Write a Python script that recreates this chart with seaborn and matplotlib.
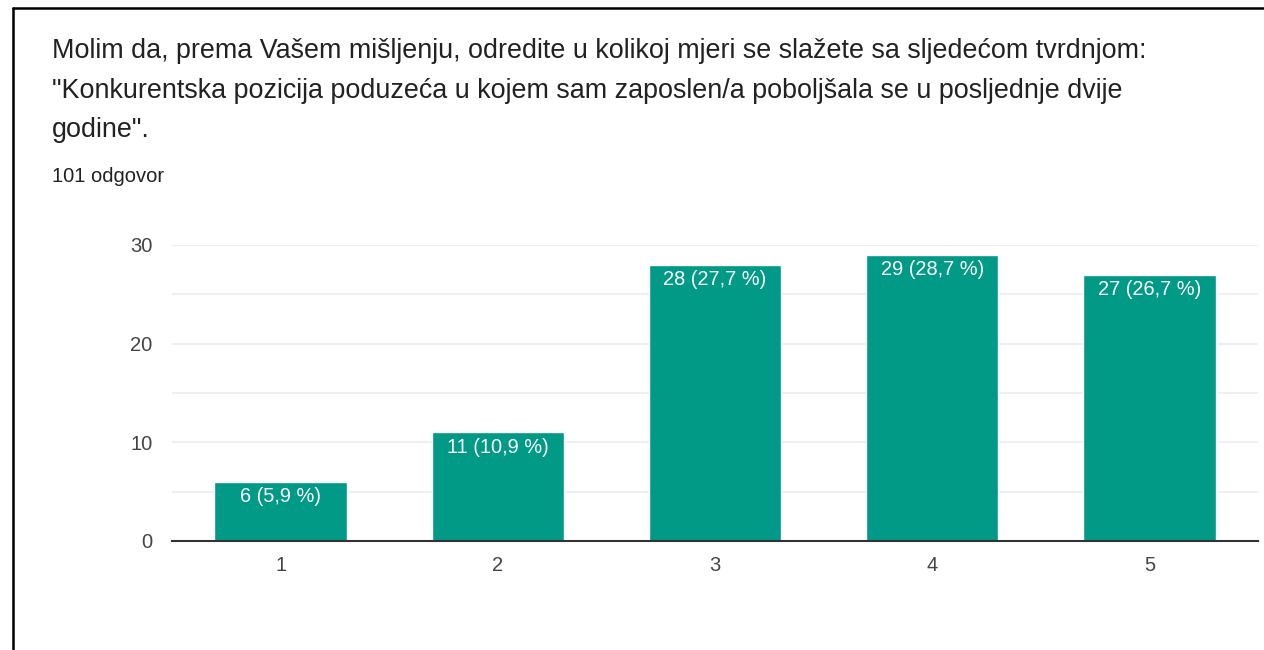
import matplotlib
matplotlib.use("Agg")
import matplotlib.pyplot as plt
import seaborn as sns
import pandas as pd
from matplotlib.lines import Line2D

categories = ["1", "2", "3", "4", "5"]
counts = [6, 11, 28, 29, 27]
percents = ["5,9", "10,9", "27,7", "28,7", "26,7"]
yticks = [0, 10, 20, 30]

title = ("Molim da, prema Vašem mišljenju, odredite u kolikoj mjeri se slažete sa sljedećom tvrdnjom:\n"
         "\"Konkurentska pozicija poduzeća u kojem sam zaposlen/a poboljšala se u posljednje dvije\n"
         "godine\".")
subtitle = "101 odgovor"

sns.set_theme(style="white")
plt.rcParams['font.family'] = ['Liberation Sans', 'DejaVu Sans']

df = pd.DataFrame({"cat": categories, "count": counts})

fig = plt.figure(figsize=(12.64, 6.5), dpi=100)
ax = fig.add_axes([172/1264, 1-541/650, (1258-172)/1264, (541-245)/650])

sns.barplot(data=df, x="cat", y="count", color="#009A87", width=0.61, ax=ax,
            saturation=1, zorder=3)

ax.set_xlim(-0.5, 4.5)
ax.set_ylim(0, 30)
ax.set_yticks(yticks)
ax.set_yticks([5, 15, 25], minor=True)
ax.grid(axis="y", which="both", color="#ececec", linewidth=1.2, zorder=0)
ax.set_axisbelow(True)
for s in ["top", "right", "left"]:
    ax.spines[s].set_visible(False)
ax.spines["bottom"].set_color("#333333")
ax.spines["bottom"].set_linewidth(1.5)
ax.spines["bottom"].set_zorder(4)
ax.set_xlabel("")
ax.set_ylabel("")
ax.tick_params(axis="both", which="both", length=0, labelsize=14.5, colors="#444444")
ax.tick_params(axis="y", pad=14)
ax.tick_params(axis="x", pad=10.5)

for i, (c, p) in enumerate(zip(counts, percents)):
    ax.annotate(f"{c} ({p} %)", xy=(i, c), xytext=(0, -10.5), textcoords="offset points",
                ha="center", va="center", color="white", fontsize=14.4, zorder=5)

fig.text(52/1264, 1-38.5/650, title, ha="left", va="top", fontsize=19.4, color="#222222",
         linespacing=1.67)
fig.text(52/1264, 1-176/650, subtitle, ha="left", va="center", fontsize=14.5, color="#222222")

# frame lines of the screenshot
fig.add_artist(Line2D([12.5/1264, 12.5/1264], [0, 1-7.5/650], transform=fig.transFigure,
                      color="black", linewidth=1.8))
fig.add_artist(Line2D([12.5/1264, 1], [1-7.5/650, 1-7.5/650], transform=fig.transFigure,
                      color="black", linewidth=1.8))

fig.savefig("out.png", dpi=100)
